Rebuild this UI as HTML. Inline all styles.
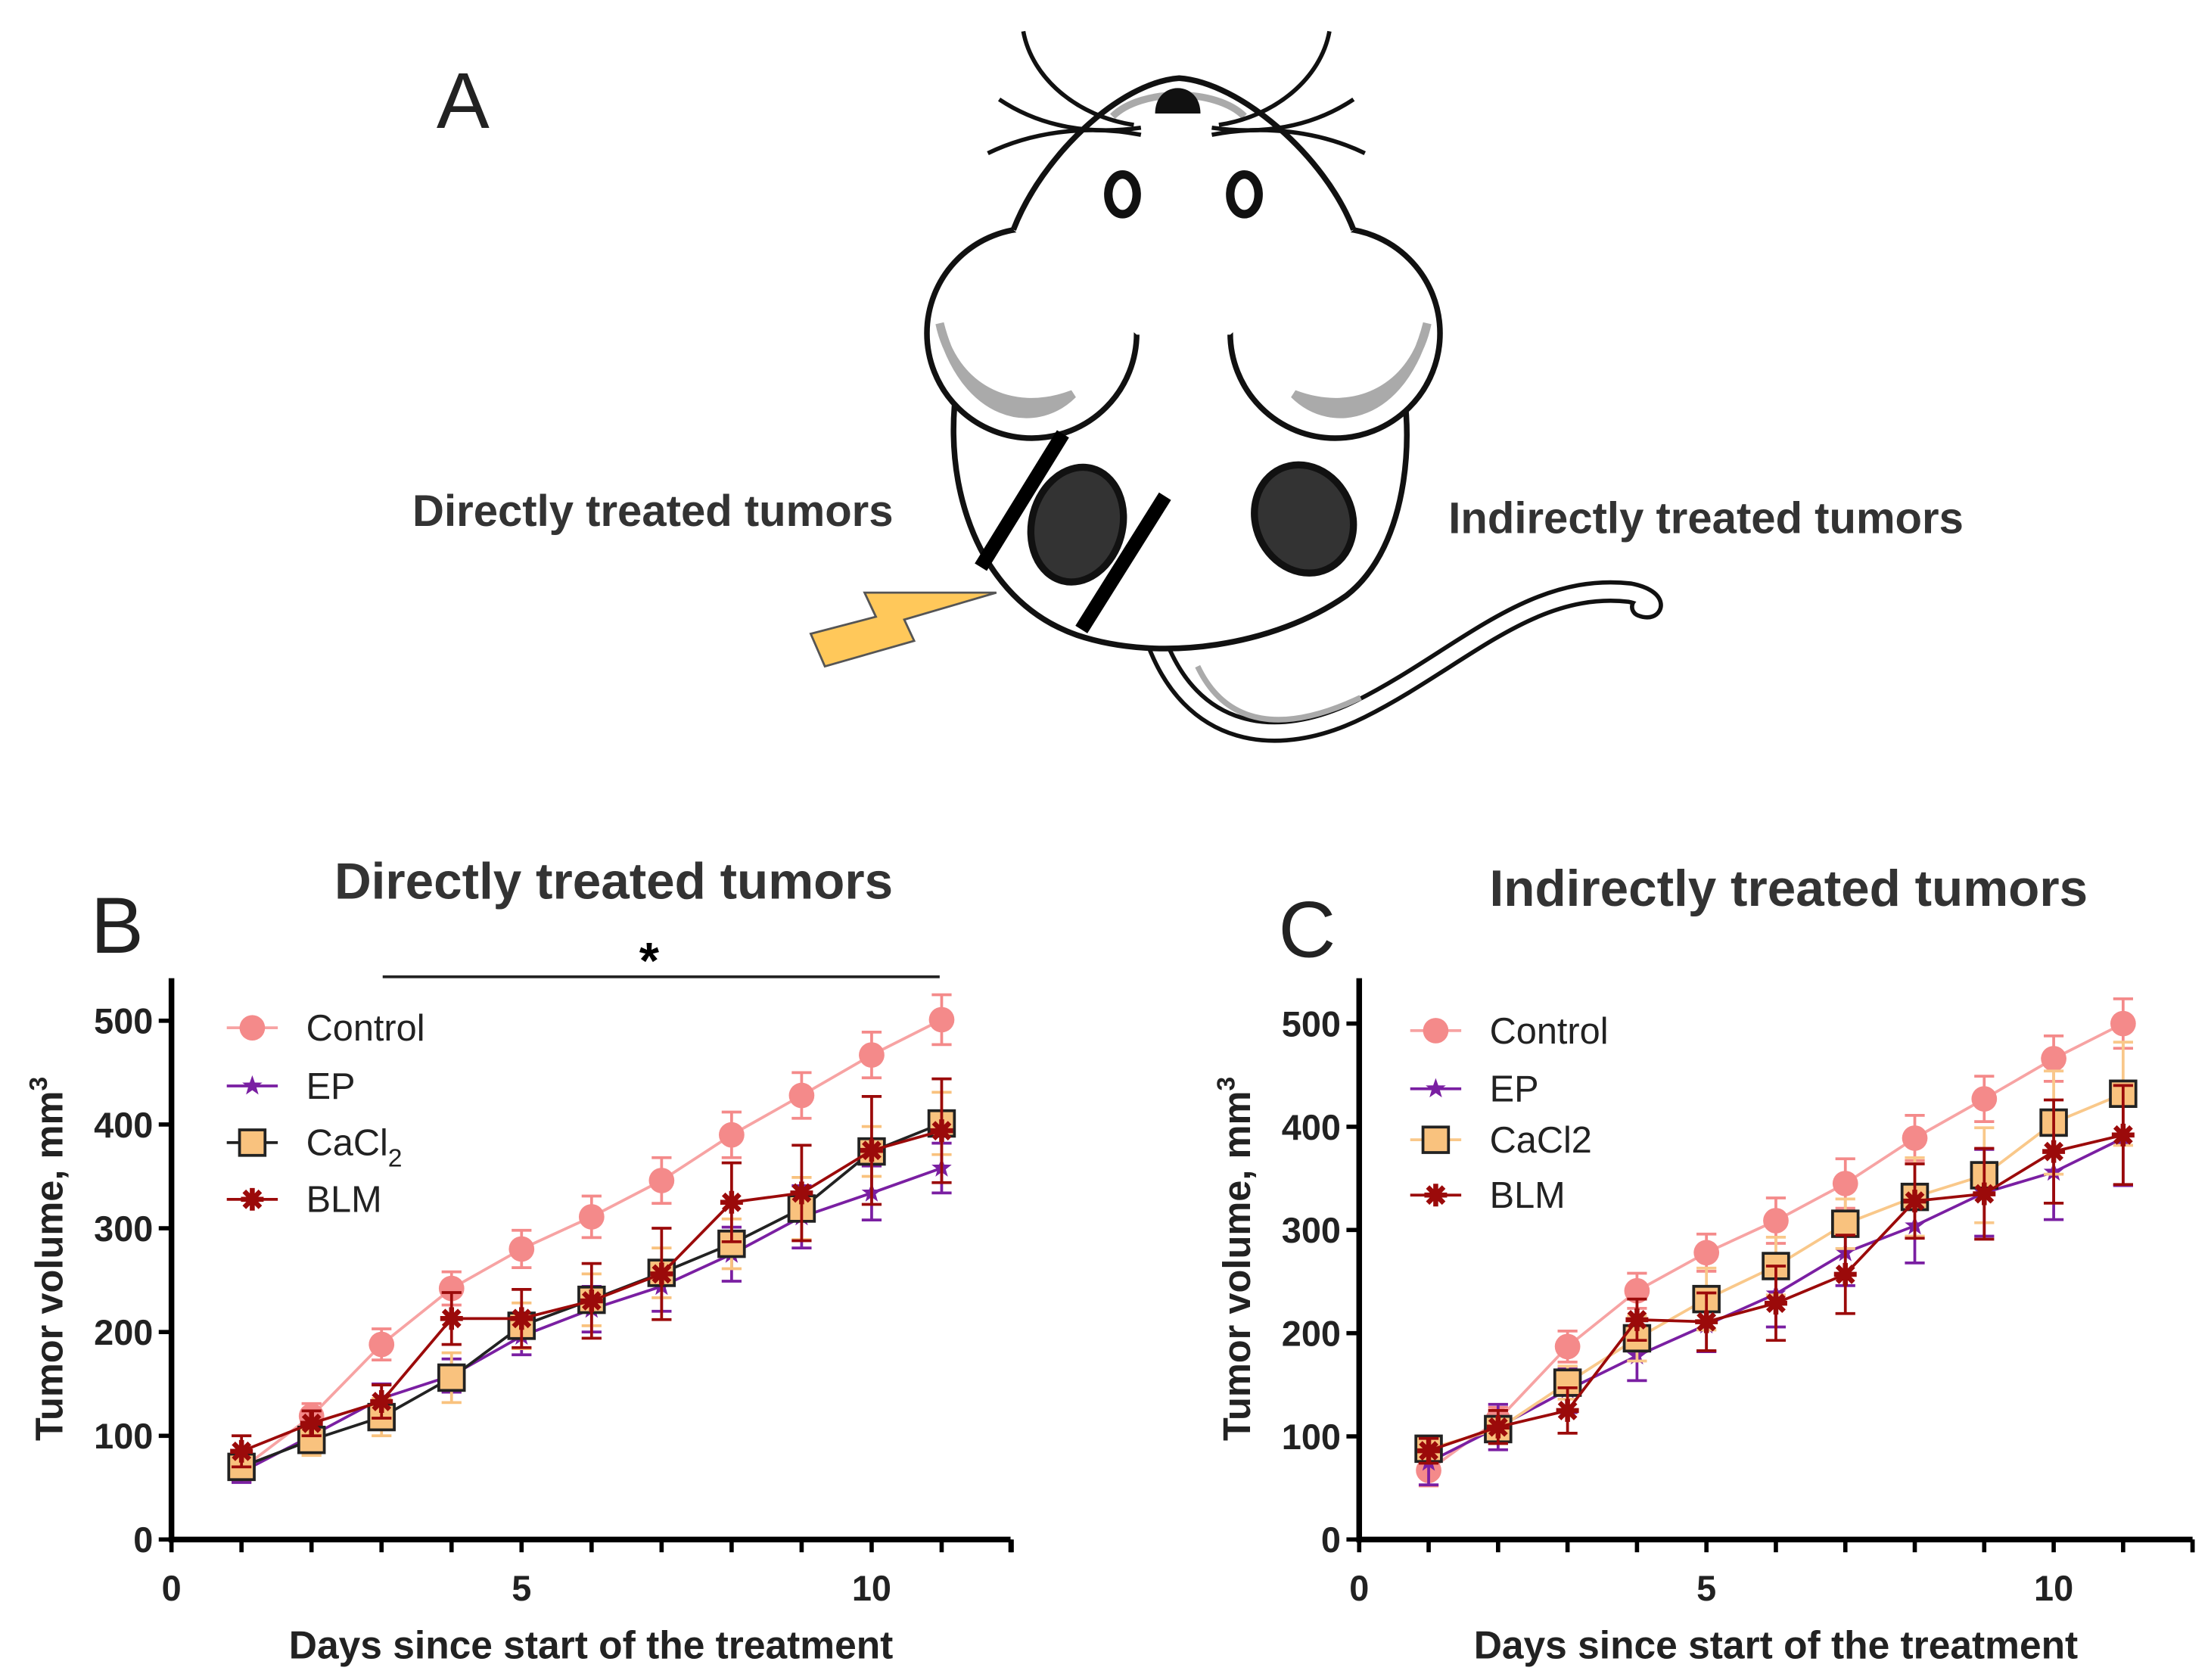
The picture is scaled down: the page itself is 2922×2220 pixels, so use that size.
<!DOCTYPE html>
<html><head><meta charset="utf-8"><style>
html,body{margin:0;padding:0;background:#fff;}
svg{display:block;font-family:"Liberation Sans",Arial,sans-serif;}
</style></head><body>
<svg id="fig" width="2922" height="2220" viewBox="0 0 1560 1185" xmlns="http://www.w3.org/2000/svg">
<rect width="1560" height="1185" fill="#fff"/>
<g id="mouse">
  <text x="308" y="90" font-size="56" fill="#222">A</text>
  <!-- tail -->
  <path d="M815,450 C840,520 900,530 960,500 C1030,465 1080,410 1150,418 C1170,422 1168,432 1158,428" fill="none" stroke="#111" stroke-width="16" stroke-linecap="round"/>
  <path d="M815,450 C840,520 900,530 960,500 C1030,465 1080,410 1150,418 C1170,422 1168,432 1158,428" fill="none" stroke="#fff" stroke-width="10" stroke-linecap="round"/>
  <path d="M845,470 C865,512 905,518 960,492" fill="none" stroke="#aaa" stroke-width="4"/>
  <!-- body -->
  <path d="M680,250 C660,320 680,420 760,448 C820,468 900,455 950,420 C995,385 1000,300 985,250 Z" fill="#fff" stroke="none"/>
  <path d="M680,250 C660,320 680,420 760,448 C820,468 900,455 950,420 C995,385 1000,300 985,250" fill="none" stroke="#111" stroke-width="4"/>
  <!-- ears -->
  <circle cx="728" cy="235" r="74" fill="#fff" stroke="#111" stroke-width="4"/>
  <circle cx="942" cy="235" r="74" fill="#fff" stroke="#111" stroke-width="4"/>
  <path d="M663,228 C672,272 712,295 757,278 C730,305 680,295 663,228 Z" fill="#aaa" stroke="#aaa" stroke-width="6"/>
  <path d="M1007,228 C998,272 958,295 913,278 C940,305 990,295 1007,228 Z" fill="#aaa" stroke="#aaa" stroke-width="6"/>
  <!-- head -->
  <path d="M715,162 C735,110 790,58 832,55 C875,58 935,110 955,162 L868,236 L802,236 Z" fill="#fff" stroke="none"/>
  <path d="M715,162 C735,110 790,58 832,55 C875,58 935,110 955,162" fill="none" stroke="#111" stroke-width="4"/>
  <path d="M785,82 C805,62 858,62 878,82" fill="none" stroke="#aaa" stroke-width="5"/>
  <!-- eyes & nose -->
  <ellipse cx="792" cy="137" rx="10" ry="14" fill="#fff" stroke="#111" stroke-width="6"/>
  <ellipse cx="878" cy="137" rx="10" ry="14" fill="#fff" stroke="#111" stroke-width="6"/>
  <path d="M815,80 C815,56 847,56 847,80 Z" fill="#111"/>
  <!-- whiskers -->
  <g fill="none" stroke="#111" stroke-width="3">
    <path d="M722,22 C728,55 760,82 800,88"/><path d="M705,70 C735,90 770,95 805,90"/><path d="M697,108 C730,92 770,88 805,95"/>
    <path d="M938,22 C932,55 900,82 860,88"/><path d="M955,70 C925,90 890,95 855,90"/><path d="M963,108 C930,92 890,88 855,95"/>
  </g>
  <!-- tumors -->
  <ellipse cx="760" cy="370" rx="32" ry="41" transform="rotate(15 760 370)" fill="#333" stroke="#111" stroke-width="5"/>
  <ellipse cx="920" cy="366" rx="34" ry="39" transform="rotate(-25 920 366)" fill="#333" stroke="#111" stroke-width="5"/>
  <!-- electrodes -->
  <line x1="750" y1="306" x2="692" y2="400" stroke="#000" stroke-width="10"/>
  <line x1="822" y1="350" x2="763" y2="444" stroke="#000" stroke-width="10"/>
  <polygon points="572,447 618,435 610,418 703,418 638,437 645,452 582,470" fill="#FFC85A" stroke="#555" stroke-width="1.5"/>
  <text x="291" y="371" font-size="31" font-weight="bold" fill="#333">Directly treated tumors</text>
  <text x="1022" y="376" font-size="31" font-weight="bold" fill="#333">Indirectly treated tumors</text>
</g>
<g id="chartB"></g>
<g id="chartC"></g>
</svg>
<script>
const days = [1,2,3,4,5,6,7,8,9,10,11];
const yTicks = [0,100,200,300,400,500];
const xTickLabels = [0,5,10];
// Panel B
const bControl = [68,119,188,242,280,311,346,390,428,467,501];
const bControlErr = [12,12,15,16,18,20,22,22,22,22,24];
const bEP = [65,100,136,158,196,222,244,275,311,334,358];
const bEPErr = [10,12,14,16,18,22,24,26,30,26,24];
const bCaCl2 = [70,96,118,156,206,231,257,285,319,374,401];
const bCaCl2Err = [10,15,18,24,22,25,24,24,30,24,30];
const bBLM = [85,112,133,213,213,230,256,325,334,375,394];
const bBLMErr = [15,12,16,25,28,36,44,38,46,52,50];
// Panel C
const cControl = [67,116,187,241,278,309,345,389,427,466,500];
const cControlErr = [15,12,15,17,18,22,24,22,22,22,24];
const cEP = [75,109,145,178,208,238,278,304,336,356,389];
const cEPErr = [22,22,22,24,26,32,32,36,42,46,46];
const cCaCl2 = [88,107,152,195,233,265,306,332,353,404,432];
const cCaCl2Err = [12,12,16,22,30,28,24,38,46,50,50];
const cBLM = [86,109,125,213,211,229,257,328,335,376,392];
const cBLMErr = [12,16,22,20,28,36,38,36,44,50,48];

const NS='http://www.w3.org/2000/svg';
function mk(parent, tag, attrs){const e=document.createElementNS(NS,tag);for(const k in attrs)e.setAttribute(k,attrs[k]);parent.appendChild(e);return e;}

function drawChart(g, o){
  const X=d=>o.x0+d*o.pd, Y=v=>o.y0-v*o.pu;
  let e=mk(g,'line',{x1:o.x0,y1:o.top,x2:o.x0,y2:o.y0+2,stroke:'#000','stroke-width':4});
  
  
  e=mk(g,'line',{x1:o.x0-2,y1:o.y0,x2:o.xend,y2:o.y0,stroke:'#000','stroke-width':4});
  
  
  for(let d=0; X(d)<=o.xend+1; d++){
    e=mk(g,'line',{x1:X(d),y1:o.y0,x2:X(d),y2:o.y0+9,stroke:'#000','stroke-width':3});
    
    
  }
  e=mk(g,'line',{x1:o.xend,y1:o.y0,x2:o.xend,y2:o.y0+9,stroke:'#000','stroke-width':3});
  xTickLabels.forEach(t=>{
    const tx=mk(g,'text',{x:X(t),y:o.y0+43,'font-size':25,'font-weight':'bold','text-anchor':'middle',fill:'#222'});
    tx.textContent=t;
    
    
  });
  yTicks.forEach(t=>{
    e=mk(g,'line',{x1:o.x0-9,y1:Y(t),x2:o.x0,y2:Y(t),stroke:'#000','stroke-width':3});
    
    
    const tx=mk(g,'text',{x:o.x0-13,y:Y(t)+9,'font-size':25,'font-weight':'bold','text-anchor':'end',fill:'#222'});
    tx.textContent=t;
    
    
  });
  let tt=mk(g,'text',{x:(o.x0+o.xend)/2,y:o.y0+84,'font-size':27.5,'font-weight':'bold','text-anchor':'middle',fill:'#222'});
  tt.textContent='Days since start of the treatment';
  
  
  const yc=(o.top+o.y0)/2;
  tt=mk(g,'text',{x:0,y:0,'font-size':27,'font-weight':'bold','text-anchor':'middle',fill:'#222',transform:`translate(${o.x0-77},${yc}) rotate(-90)`});
  tt.innerHTML='Tumor volume, mm<tspan dy="-11" font-size="18">3</tspan>';
  
  
  tt=mk(g,'text',{x:o.titleX,y:o.titleY,'font-size':36,'font-weight':'bold','text-anchor':'middle',fill:'#333'});
  tt.textContent=o.title;
  
  
  tt=mk(g,'text',{x:o.letterX,y:o.letterY,'font-size':56,fill:'#222'});
  tt.textContent=o.letter;
  
  

  o.series.forEach(s=>{
    const sg=mk(g,'g',{});
    
    
    days.forEach((d,i)=>{
      const x=X(d), v=s.vals[i], er=s.errs[i];
      const eb=mk(sg,'path',{d:`M${x},${Y(v-er)}V${Y(v+er)}M${x-7},${Y(v+er)}H${x+7}M${x-7},${Y(v-er)}H${x+7}`,stroke:s.ecol,'stroke-width':2,fill:'none'});
      
      
    });
    const ln=mk(sg,'polyline',{points:days.map((d,i)=>X(d)+','+Y(s.vals[i])).join(' '),fill:'none',stroke:s.lcol,'stroke-width':2});
    
    
    days.forEach((d,i)=>{ const m=marker(sg,s.type,X(d),Y(s.vals[i]),s);   });
  });
  o.series.forEach((s,i)=>{
    const ly=o.legY[i];
    const lg=mk(g,'g',{});
    
    
    mk(lg,'line',{x1:o.legX-18,y1:ly,x2:o.legX+18,y2:ly,stroke:s.lcol,'stroke-width':2});
    marker(lg,s.type,o.legX,ly,s);
    const t=mk(lg,'text',{x:o.legX+38,y:ly+9,'font-size':26,fill:'#222'});
    t.innerHTML=s.label;
  });
}
function marker(p,type,x,y,s){
  if(type==='circle') return mk(p,'circle',{cx:x,cy:y,r:9,fill:s.col});
  if(type==='square') return mk(p,'rect',{x:x-9,y:y-9,width:18,height:18,fill:'#F9C27E',stroke:'#222','stroke-width':2});
  if(type==='star'){let pts=[];for(let k=0;k<10;k++){const r=k%2?3:7.5,a=-Math.PI/2+k*Math.PI/5;pts.push((x+r*Math.cos(a)).toFixed(1)+','+(y+r*Math.sin(a)).toFixed(1));}return mk(p,'polygon',{points:pts.join(' '),fill:s.col});}
  let d='';for(let k=0;k<4;k++){const a=k*Math.PI/4;d+=`M${x-8*Math.cos(a)},${y-8*Math.sin(a)}L${x+8*Math.cos(a)},${y+8*Math.sin(a)}`;}
  return mk(p,'path',{d:d,stroke:s.col,'stroke-width':3.5});
}
const gB=document.getElementById('chartB'), gC=document.getElementById('chartC');
drawChart(gB,{x0:121,pd:49.4,y0:1086,pu:0.732,xend:713,top:690,title:'Directly treated tumors',titleX:433,titleY:634,letter:'B',letterX:64,letterY:672,legX:178,legY:[725,766,806,846],
 series:[
  {key:'control',label:'Control',type:'circle',vals:bControl,errs:bControlErr,col:'#F48A8A',lcol:'#F7A3A3',ecol:'#F48A8A'},
  {key:'ep',label:'EP',type:'star',vals:bEP,errs:bEPErr,col:'#7A1FA2',lcol:'#7A1FA2',ecol:'#7A1FA2'},
  {key:'cacl2',label:'CaCl<tspan dy="8" font-size="18">2</tspan>',type:'square',vals:bCaCl2,errs:bCaCl2Err,col:'#F9C27E',lcol:'#222',ecol:'#F9C27E'},
  {key:'blm',label:'BLM',type:'asterisk',vals:bBLM,errs:bBLMErr,col:'#9B0A0A',lcol:'#9B0A0A',ecol:'#9B0A0A'}]});
drawChart(gC,{x0:959,pd:49.0,y0:1086,pu:0.728,xend:1547,top:690,title:'Indirectly treated tumors',titleX:1262,titleY:639,letter:'C',letterX:902,letterY:675,legX:1013,legY:[727,768,804,843],
 series:[
  {key:'control',label:'Control',type:'circle',vals:cControl,errs:cControlErr,col:'#F48A8A',lcol:'#F7A3A3',ecol:'#F48A8A'},
  {key:'ep',label:'EP',type:'star',vals:cEP,errs:cEPErr,col:'#7A1FA2',lcol:'#7A1FA2',ecol:'#7A1FA2'},
  {key:'cacl2',label:'CaCl2',type:'square',vals:cCaCl2,errs:cCaCl2Err,col:'#F9C27E',lcol:'#F9C88A',ecol:'#F9C88A'},
  {key:'blm',label:'BLM',type:'asterisk',vals:cBLM,errs:cBLMErr,col:'#9B0A0A',lcol:'#9B0A0A',ecol:'#9B0A0A'}]});
const sig=document.createElementNS(NS,'line');
sig.setAttribute('x1',270);sig.setAttribute('y1',689);sig.setAttribute('x2',663);sig.setAttribute('y2',689);sig.setAttribute('stroke','#222');sig.setAttribute('stroke-width',2);


gB.appendChild(sig);
const st=document.createElementNS(NS,'text');
st.setAttribute('x',458);st.setAttribute('y',690);st.setAttribute('font-size',36);st.setAttribute('font-weight','bold');st.setAttribute('text-anchor','middle');
st.textContent='*';


gB.appendChild(st);
</script>
</body></html>
